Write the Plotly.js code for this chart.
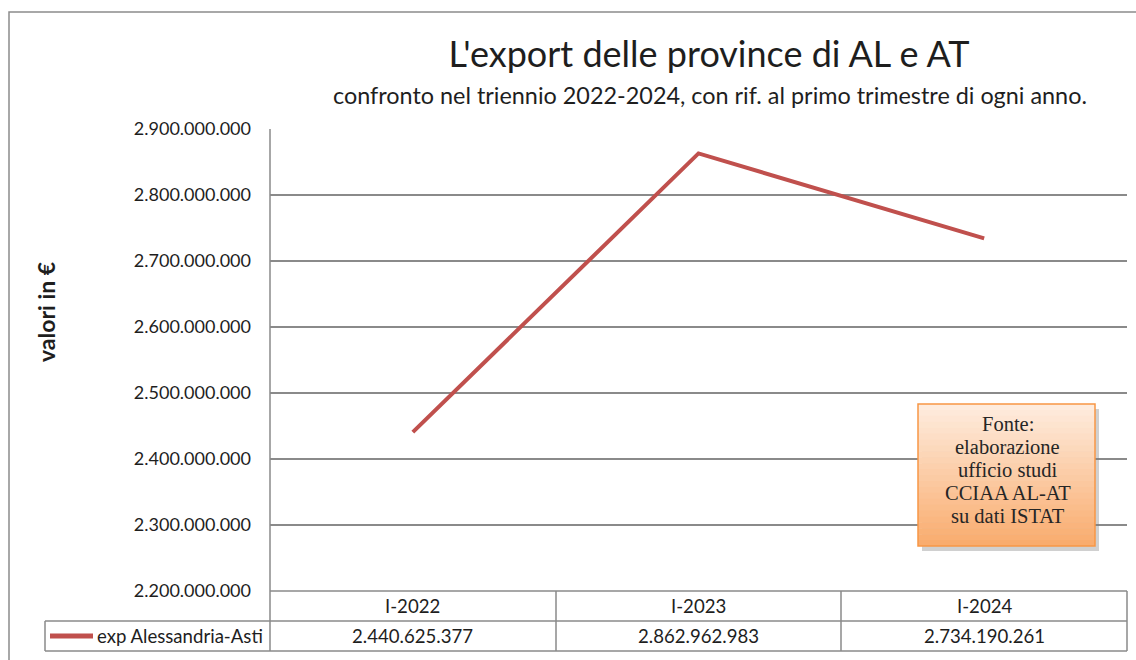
<!DOCTYPE html>
<html>
<head>
<meta charset="utf-8">
<script src="https://cdn.plot.ly/plotly-3.0.1.min.js"></script>
<style>
html,body{margin:0;padding:0;background:#fff;}
#chart{width:1136px;height:660px;}
</style>
</head>
<body>
<div id="chart"></div>
<script>
// ---- data ----
const categories = ["I-2022", "I-2023", "I-2024"];
const seriesName = "exp Alessandria-Asti";
const exportValues = [2440625377, 2862962983, 2734190261];
const yTickValues = [2200000000, 2300000000, 2400000000, 2500000000, 2600000000, 2700000000, 2800000000, 2900000000];
const titleText = "L'export delle province di AL e AT";
const subtitleText = "confronto nel triennio 2022-2024, con rif. al primo trimestre di ogni anno.";
const yTitleText = "valori in €";
const sourceLines = ["Fonte:", "elaborazione", "ufficio studi", "CCIAA AL-AT", "su dati ISTAT"];

// ---- layout helpers ----
const L = 270, R = 1127, T = 129, B = 591;
const W = R - L, H = B - T;
const px = x => (x - L) / W;
const py = y => (B - y) / H;
const fmt = v => String(v).replace(/\B(?=(\d{3})+(?!\d))/g, ".");

const SANS = "Lato, 'Noto Sans', sans-serif";
const SERIF = "'Liberation Serif', 'DejaVu Serif', serif";
const GRID = "#8a8a8a";
const RED = "#C0504D";
const TXT = "#1e1e1e";

const shapes = [];
function pline(x0, y0, x1, y1, color, width) {
  shapes.push({type: "line", xref: "paper", yref: "paper",
    x0: px(x0), y0: py(y0), x1: px(x1), y1: py(y1),
    line: {color: color, width: width}});
}
function prect(x0, y0, x1, y1, fill, lineColor, lineWidth) {
  shapes.push({type: "rect", xref: "paper", yref: "paper",
    x0: px(x0), y0: py(y0), x1: px(x1), y1: py(y1),
    fillcolor: fill, line: {color: lineColor || "rgba(0,0,0,0)", width: lineWidth || 0}});
}

// outer chart border
prect(9, 12, 1150, 680, "rgba(0,0,0,0)", "#8c8c8c", 1.5);
// vertical axis line down through table
pline(L, T, L, 651, GRID, 1.5);
// data table
pline(L, 591, R, 591, GRID, 1.5);
pline(45, 621, R, 621, GRID, 1.5);
pline(45, 651, R, 651, GRID, 1.5);
pline(45, 621, 45, 651, GRID, 1.5);
const colEdges = [556, 841, R];
colEdges.forEach(x => pline(x, 591, x, 651, GRID, 1.5));
// legend key
pline(50, 636, 93, 636, RED, 5);

// source box: shadow, gradient, border
const bx0 = 918, by0 = 404, bx1 = 1095, by1 = 546;
prect(bx0 + 4, by0 + 5, bx1 + 4, by1 + 5, "rgba(120,120,120,0.35)");
const steps = 24;
const c0 = [254, 236, 222], c1 = [249, 172, 110];
for (let i = 0; i < steps; i++) {
  const t = i / (steps - 1);
  const c = c0.map((v, k) => Math.round(v + (c1[k] - v) * t));
  const ya = by0 + (by1 - by0) * i / steps;
  const yb = by0 + (by1 - by0) * (i + 1) / steps + 0.5;
  prect(bx0, ya, bx1, Math.min(yb, by1), `rgb(${c[0]},${c[1]},${c[2]})`);
}
prect(bx0, by0, bx1, by1, "rgba(0,0,0,0)", "#F79646", 1.5);

const annotations = [];
// subtitle
annotations.push({xref: "paper", yref: "paper", x: px(710), y: py(95), xanchor: "center", yanchor: "middle",
  text: subtitleText, showarrow: false, font: {family: SANS, size: 23.4, color: TXT}});
// y-axis title
annotations.push({xref: "paper", yref: "paper", x: px(46), y: py(312), xanchor: "center", yanchor: "middle",
  text: "<b>" + yTitleText + "</b>", textangle: -90, showarrow: false, font: {family: SANS, size: 23, color: TXT}});
// table header + values
categories.forEach((c, i) => {
  annotations.push({xref: "x", yref: "paper", x: c, y: py(606), xanchor: "center", yanchor: "middle",
    text: c, showarrow: false, font: {family: SANS, size: 18.6, color: TXT}});
  annotations.push({xref: "x", yref: "paper", x: c, y: py(636), xanchor: "center", yanchor: "middle",
    text: fmt(exportValues[i]), showarrow: false, font: {family: SANS, size: 18.6, color: TXT}});
});
// legend label
annotations.push({xref: "paper", yref: "paper", x: px(265), y: py(636), xanchor: "right", yanchor: "middle",
  text: seriesName, showarrow: false, font: {family: SANS, size: 18.6, color: TXT}});
// source text, one line each
const srcY = [424, 447, 469.5, 492.5, 515.5];
sourceLines.forEach((s, i) => {
  annotations.push({xref: "paper", yref: "paper", x: px((bx0 + bx1) / 2 + 1), y: py(srcY[i]), xanchor: "center", yanchor: "middle",
    text: s, showarrow: false, font: {family: SERIF, size: 20.5, color: "#262626"}});
});

const trace = {
  type: "scatter", mode: "lines", name: seriesName,
  x: categories, y: exportValues,
  line: {color: RED, width: 4},
  hoverinfo: "skip"
};

const layout = {
  width: 1136, height: 660,
  margin: {l: L, r: 1136 - R, t: T, b: 660 - B, pad: 0},
  paper_bgcolor: "#ffffff", plot_bgcolor: "#ffffff",
  separators: ",.",
  showlegend: false,
  title: {text: titleText, font: {family: SANS, size: 36, color: TXT},
    xref: "paper", x: px(709), xanchor: "center",
    yref: "container", y: 1 - 54 / 660, yanchor: "middle"},
  xaxis: {type: "category", range: [-0.5, 2.5], showgrid: false, zeroline: false,
    showticklabels: false, showline: false, ticks: "", fixedrange: true},
  yaxis: {range: [2200000000, 2900000000], tickvals: yTickValues, tickformat: ",d",
    showgrid: true, gridcolor: GRID, gridwidth: 1.5, zeroline: false, showline: false,
    ticks: "", ticklabelstandoff: 18,
    tickfont: {family: SANS, size: 18, color: TXT}, fixedrange: true},
  shapes: shapes,
  annotations: annotations
};

Plotly.newPlot("chart", [trace], layout, {displayModeBar: false, staticPlot: true});
</script>
</body>
</html>
